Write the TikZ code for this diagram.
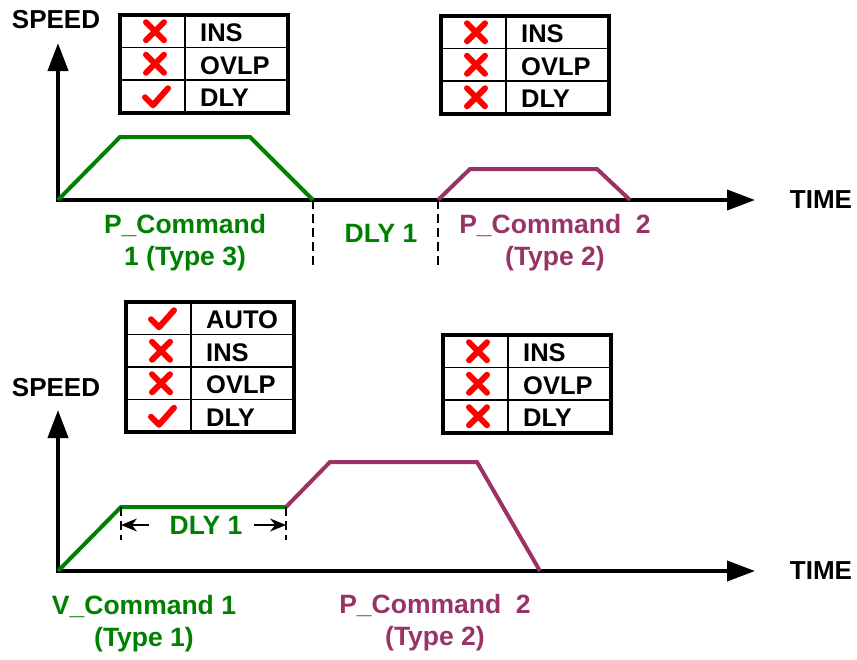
\documentclass[tikz,border=0pt]{standalone}
\usepackage{fontspec}
\setmainfont{Liberation Sans}
\usetikzlibrary{arrows.meta}

\definecolor{cmdgreen}{RGB}{0,128,0}
\definecolor{cmdpurple}{RGB}{153,51,102}

% red tick and cross in the flag tables
\newcommand{\markyes}[1]{\draw[flag] ([shift={(-10,1)}]#1) -- ++(8,8) -- ++(15,-17);}
\newcommand{\markno}[1]{\draw[flag] ([shift={(-9,-9)}]#1) -- ++(18,18)
  ([shift={(-9,9)}]#1) -- ++(18,-18);}
% #1 name, #2 x, #3 y, #4 rows, #5 mark/text list
\newcommand{\flagtable}[5]{%
  \begin{scope}[shift={(#2,#3)}]
    \foreach \mk/\txt [count=\i] in {#5} {
      \coordinate (#1-c\i) at (35,{(\i-0.5)*32.5});
      \csname mark\mk\endcsname{#1-c\i}
      \node[celltext] (#1-t\i) at (80,{(\i-0.5)*32.5+1.5}) {\txt};
      \draw[rule] (0,{\i*32.5}) -- (168,{\i*32.5});
    }
    \draw[rule] (65,0) -- (65,{#4*32.5});
    \draw[frame] (0,0) rectangle (168,{#4*32.5});
  \end{scope}}

\begin{document}
\begin{tikzpicture}[x=1pt,y=-1pt,
    axis/.style={line width=4pt,line join=miter,
      {Triangle[length=28pt,width=20pt]}-{Triangle[length=28pt,width=20pt]}},
    curve/.style={line width=4pt,line join=miter},
    rule/.style={line width=1.5pt},
    frame/.style={line width=4pt},
    flag/.style={red,line width=6pt,line cap=round,line join=round},
    celltext/.style={anchor=west,inner sep=0pt,text depth=0pt,
      font=\bfseries\fontsize{25.5}{30}\selectfont},
    axlabel/.style={font=\bfseries\fontsize{26}{31}\selectfont},
    cmdlabel/.style={font=\bfseries\fontsize{26.5}{32}\selectfont,align=center},
    guide/.style={line width=1.5pt,dash pattern=on 9pt off 5pt},
    dim/.style={line width=1.5pt,-{Stealth[length=16pt,width=13pt]}}]
  \useasboundingbox (0,0) rectangle (857,659);

  % upper chart
  \coordinate (o1) at (58,200);
  \coordinate (y1) at (58,43);
  \coordinate (x1) at (755,200);
  \coordinate (e1) at (313,200);
  \coordinate (s1) at (438,200);
  \draw[axis] (y1) -- (o1) -- (x1);
  \node[axlabel] (spd1) at (56,20) {SPEED};
  \node[axlabel] (time1) at (821,200) {TIME};
  \draw[curve,cmdgreen] (o1) -- (120,137) -- (250,137) -- (e1);
  \draw[curve,cmdpurple] (s1) -- (470,169) -- (597,169) -- (630,200);
  \draw[guide] (e1) -- ++(0,68);
  \draw[guide] (s1) -- ++(0,68);
  \node[cmdlabel,text=cmdgreen] (cmdA) at (185,243) {P\_Command\\1 (Type 3)};
  \node[cmdlabel,text=cmdgreen] (dlyA) at (381,233) {DLY 1};
  \node[cmdlabel,text=cmdpurple] (cmdB) at (555,243) {P\_Command\ \ 2\\(Type 2)};
  \flagtable{tabA}{120}{15}{3}{no/INS,no/OVLP,yes/DLY}
  \flagtable{tabB}{441}{16}{3}{no/INS,no/OVLP,no/DLY}

  % lower chart
  \coordinate (o2) at (58,571);
  \coordinate (y2) at (58,410);
  \coordinate (x2) at (755,571);
  \coordinate (d1) at (121,507);
  \coordinate (d2) at (286,507);
  \draw[axis] (y2) -- (o2) -- (x2);
  \node[axlabel] (spd2) at (56,388) {SPEED};
  \node[axlabel] (time2) at (821,571) {TIME};
  \draw[curve,cmdgreen] (o2) -- (d1) -- (d2);
  \draw[curve,cmdpurple] (d2) -- (330,462) -- (477,462) -- (540,571);
  \draw[guide] (d1) -- ++(0,33);
  \draw[guide] (d2) -- ++(0,33);
  \node[cmdlabel,text=cmdgreen,inner sep=0pt] (dlyB) at (206,525) {DLY 1};
  \draw[dim] ([xshift=-20pt]dlyB.west) -- (dlyB.west -| d1);
  \draw[dim] ([xshift=11pt]dlyB.east) -- (dlyB.east -| d2);
  \node[cmdlabel,text=cmdgreen] (cmdC) at (144,624) {V\_Command 1\\(Type 1)};
  \node[cmdlabel,text=cmdpurple] (cmdD) at (435,623) {P\_Command\ \ 2\\(Type 2)};
  \flagtable{tabC}{126}{302}{4}{yes/AUTO,no/INS,no/OVLP,yes/DLY}
  \flagtable{tabD}{443}{335}{3}{no/INS,no/OVLP,no/DLY}
\end{tikzpicture}
\end{document}
